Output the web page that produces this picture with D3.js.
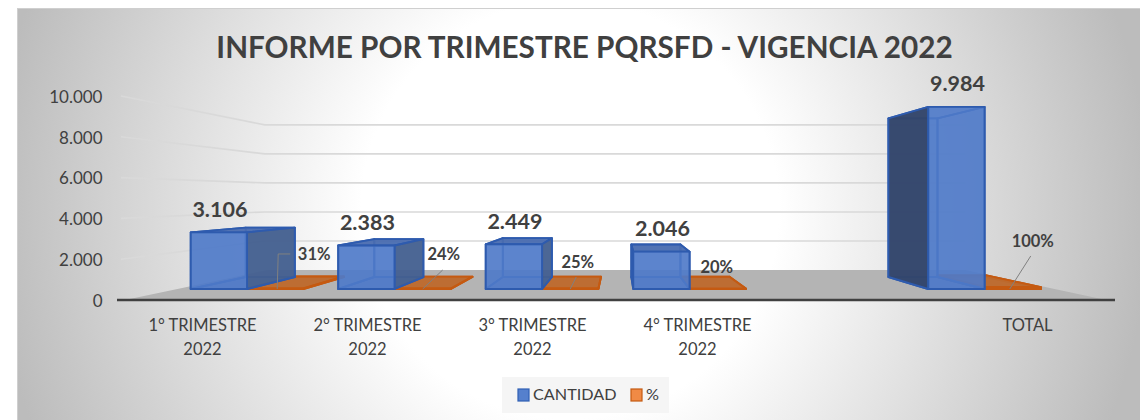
<!DOCTYPE html>
<html><head><meta charset="utf-8">
<script src="https://cdn.jsdelivr.net/npm/d3@7"></script>
<style>html,body{margin:0;padding:0;background:#fff}svg{display:block}text{font-family:Lato,"Open Sans",sans-serif}</style>
</head><body><div id="c"></div>
<script>
const categories = [["1° TRIMESTRE","2022"],["2° TRIMESTRE","2022"],["3° TRIMESTRE","2022"],["4° TRIMESTRE","2022"],[],["TOTAL"]];
const cantidad = [3106,2383,2449,2046,null,9984];
const porcentaje = [31,24,25,20,null,100];
const yTicks = [0,2000,4000,6000,8000,10000];
const title = "INFORME POR TRIMESTRE PQRSFD - VIGENCIA 2022";
const legendItems = ["CANTIDAD","%"];
// leader offsets from the orange bar's front centre / label offset
const leaders = [[[2,0],[3,-35],[15,-35]],[[0,0],[20,-19]],[[0,0],[6,-12]],null,null,[[-3,0],[18,-33]]];
const pctLabelOffset = [[39,-28.5],[21,-28.5],[7.5,-20.5],[-1,-15.5],null,[20,-41.5]];

const W=1140,H=420;
const svg=d3.select("#c").append("svg").attr("width",W).attr("height",H);
const defs=svg.append("defs");
const g=defs.append("radialGradient").attr("id","bg").attr("gradientUnits","userSpaceOnUse")
  .attr("cx",570).attr("cy",210).attr("r",580);
g.append("stop").attr("offset","0.36").attr("stop-color","#ffffff");
g.append("stop").attr("offset","1").attr("stop-color","#bcbcbc");
svg.append("rect").attr("x",17.5).attr("y",8.5).attr("width",W).attr("height",H).attr("fill","url(#bg)").attr("stroke","#cfcfcf");

const y=d3.scaleLinear().domain([0,10000]).range([300,96]);
const x=d3.scaleBand().domain(d3.range(categories.length)).range([120,1110]);
const vp={x:618.5,y:196};
const kFront=1,kBarF=0.894,kBarB=0.779,kBack=0.711;
const P=(X,v,k)=>[vp.x+(X-vp.x)*k, vp.y+(y(v)-vp.y)*k];
const poly=pts=>"M"+pts.map(p=>p.join(",")).join("L")+"Z";
const blue="#4472C4",orange="#ED7D31";

// side wall + back wall gridlines
const wallL=121,wallR=1106;
yTicks.forEach(t=>{
  if(t===0) return;
  svg.append("path").attr("fill","none").attr("stroke","#d9d9d9").attr("stroke-width",1.6)
    .attr("d",d3.line()([P(wallL,t,kFront),P(wallL,t,kBack),P(wallR,t,kBack)]));
});
// floor
svg.append("path").attr("fill","#b4b4b4").attr("d",poly([P(125,0,1),P(1106,0,1),P(1106,0,kBack),P(125,0,kBack)]));
// axis line
svg.append("line").attr("x1",117).attr("x2",1115).attr("y1",y(0)).attr("y2",y(0)).attr("stroke","#404040").attr("stroke-width",2.4);

// y axis
const fmt=d3.formatLocale({decimal:",",thousands:".",grouping:[3],currency:["",""]}).format(",");
const ax=svg.append("g").attr("transform","translate(102.5,0.8)")
  .call(d3.axisLeft(y).tickValues(yTicks).tickSize(0).tickPadding(0).tickFormat(fmt));
ax.select(".domain").remove();
ax.selectAll("text").attr("fill","#404040").style("font-size","17px").style("font-family","Lato,sans-serif");

// bars
const barW=63,barGap=20;
function box(X0,X1,v,c,side,front,stroke,top,frontOp){
  const G=svg.append("g");
  const p=(X,val,k)=>P(X,val,k);
  const f=[p(X0,0,kBarF),p(X1,0,kBarF),p(X1,v,kBarF),p(X0,v,kBarF)];
  const b=[p(X0,0,kBarB),p(X1,0,kBarB),p(X1,v,kBarB),p(X0,v,kBarB)];
  const face=(pts,fill,op)=>G.append("path").attr("d",poly(pts)).attr("fill",fill).attr("fill-opacity",op)
     .attr("stroke",stroke).attr("stroke-width",1.9).attr("stroke-linejoin","round");
  face(b,c,0.25);
  face([f[0],f[1],b[1],b[0]],c,0.35);
  const rightVisible = f[1][0] < b[1][0];
  const leftVisible = f[0][0] > b[0][0];
  const topVisible = f[2][1] > b[2][1];
  if(rightVisible && !leftVisible){ face([f[0],b[0],b[3],f[3]],c,0.15); }
  if(leftVisible && !rightVisible){ face([f[1],b[1],b[2],f[2]],c,0.15); }
  if(!topVisible) face([f[2],f[3],b[3],b[2]],c,0.15);
  if(topVisible) face([f[2],f[3],b[3],b[2]],top,0.95);
  if(rightVisible) face([f[1],b[1],b[2],f[2]],side,0.95);
  if(leftVisible) face([f[0],b[0],b[3],f[3]],side==="#c05f1e"?side:"#33456b",0.97);
  face(f,front,frontOp);
}
categories.forEach((c,i)=>{
  if(cantidad[i]==null) return;
  const X0=x(i)+barGap;
  const X1=X0+barW;
  box(X1,X1+barW,porcentaje[i],orange,"#c05f1e","#c05f1e","#c55a11","#bd6a2e",0.86);
  box(X0,X1,cantidad[i],blue,"#44608f","#4f7ac9","#2e5bae","#4a6db0",0.9);
  const tf=P((X0+X1)/2,cantidad[i],kBarF);
  svg.append("text").attr("x",tf[0]+1).attr("y",tf[1]-15.5).attr("text-anchor","middle")
    .attr("font-size",21.5).attr("font-weight",700).attr("fill","#404040").text(fmt(cantidad[i]));
  const a=P(X1+barW/2,0,kBarF);
  if(leaders[i]) svg.append("path").attr("fill","none").attr("stroke","#808080").attr("stroke-width",1)
    .attr("d",d3.line()(leaders[i].map(o=>[a[0]+o[0],a[1]+o[1]])));
  const o=pctLabelOffset[i];
  svg.append("text").attr("x",a[0]+o[0]).attr("y",a[1]+o[1]).attr("text-anchor","middle")
    .attr("font-size",16.5).attr("font-weight",700).attr("fill","#404040").text(porcentaje[i]+"%");
  c.forEach((line,j)=>svg.append("text").attr("x",x(i)+x.bandwidth()/2).attr("y",331+j*24).attr("text-anchor","middle")
    .attr("font-size",16.5).attr("fill","#404040").text(line));
});

// title
svg.append("text").attr("x",584.5).attr("y",58).attr("text-anchor","middle").attr("font-size",29.7).attr("font-weight",700)
  .attr("fill","#404040").text(title);

// legend
svg.append("rect").attr("x",502).attr("y",377).attr("width",167).attr("height",36).attr("fill","#f5f5f5");
const lg=[[518,533],[631,646]];
legendItems.forEach((t,i)=>{
  svg.append("rect").attr("x",lg[i][0]).attr("y",389).attr("width",11).attr("height",12)
    .attr("fill",i?"#f08a45":"#5580cd").attr("stroke",i?"#c55a11":"#2f5fb5").attr("stroke-width",1.2);
  svg.append("text").attr("x",lg[i][1]).attr("y",400).attr("font-size",16.2).attr("fill","#404040").text(t);
});
</script></body></html>
